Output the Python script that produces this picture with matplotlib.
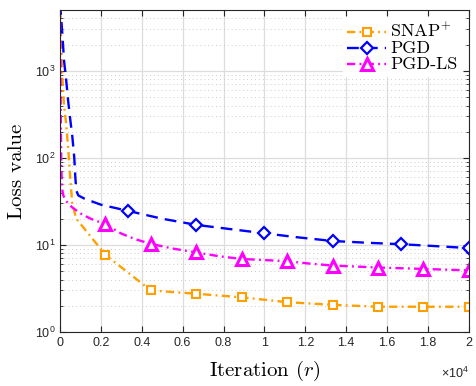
import numpy as np
import matplotlib
matplotlib.use("Agg")
import matplotlib.pyplot as plt
from matplotlib.ticker import FuncFormatter, LogLocator, NullFormatter

plt.rcParams['font.family'] = ['Liberation Sans', 'DejaVu Sans']
plt.rcParams['mathtext.fontset'] = 'custom'
plt.rcParams['mathtext.rm'] = 'Liberation Sans'
plt.rcParams['mathtext.it'] = 'Liberation Sans:italic'

# loss curves (iteration, loss)
snap_x = [0, 50, 100, 150, 200, 300, 400, 500, 600, 800, 2222, 4444, 6667,
          8889, 11111, 13333, 15556, 17778, 20000]
snap_y = [6000, 2500, 1000, 600, 400, 250, 130, 60, 30, 20, 7.7, 3.0, 2.75,
          2.5, 2.2, 2.05, 1.95, 1.95, 1.95]

pgd_x = [0, 100, 200, 300, 400, 500, 600, 700, 750, 800, 900, 1200, 2000,
         3333, 5000, 6667, 8333, 10000, 11667, 13333, 15000, 16667, 18333, 20000]
pgd_y = [6000, 3000, 1300, 800, 450, 280, 180, 100, 60, 42, 37, 34, 29,
         24.6, 20, 17, 15.2, 13.6, 12.2, 11.1, 10.6, 10.2, 9.7, 9.2]

ls_x = [0, 10, 20, 30, 40, 50, 60, 80, 100, 150, 250, 400, 600, 1000, 1500,
        2222, 3000, 3700, 4444, 5500, 6667, 7800, 8889, 10000, 11111, 12222,
        13333, 15556, 17778, 20000]
ls_y = [6000, 2500, 1200, 600, 300, 160, 100, 60, 45, 38, 33, 30, 27, 23, 20,
        17.3, 13.5, 11.6, 10.3, 9.1, 8.2, 7.4, 6.9, 6.7, 6.5, 6.1,
        5.8, 5.5, 5.3, 5.1]

snap_marks = [2222, 4444, 6667, 8889, 11111, 13333, 15556, 17778, 20000]
pgd_marks = [3333, 6667, 10000, 13333, 16667, 20000]
ls_marks = [2222, 4444, 6667, 8889, 11111, 13333, 15556, 17778, 20000]


def mark_idx(xs, marks):
    return [xs.index(m) for m in marks]


dashdot = (0, (3.5, 1.8, 0.8, 1.8))

fig = plt.figure(figsize=(4.76, 3.86), dpi=100)
ax = fig.add_axes([0.126, 0.140, 0.859, 0.834])

ax.plot(snap_x, snap_y, color='#FFA000', lw=1.7, ls=dashdot, marker='s', ms=6,
        mfc='white', mec='#FFA000', mew=1.5, markevery=mark_idx(snap_x, snap_marks),
        label='SNAP$^{+}$')
ax.plot(pgd_x, pgd_y, color='#0000FF', lw=1.7, ls=(0, (5, 3)), marker='D', ms=6,
        mfc='white', mec='#0000FF', mew=1.6, markevery=mark_idx(pgd_x, pgd_marks),
        label='PGD')
ax.plot(ls_x, ls_y, color='#FF00FF', lw=1.7, ls=dashdot, marker='^', ms=8,
        mfc='white', mec='#FF00FF', mew=2.2, markevery=mark_idx(ls_x, ls_marks),
        label='PGD-LS')

ax.set_yscale('log')
ax.set_xlim(0, 20000)
ax.set_ylim(1, 5000)
ax.set_xticks(np.arange(0, 20001, 2000))
ax.xaxis.set_major_formatter(FuncFormatter(lambda v, p: f'{v / 1e4:g}'))
ax.yaxis.set_major_locator(LogLocator(base=10, numticks=10))
ax.yaxis.set_minor_locator(LogLocator(base=10, subs=np.arange(2, 10), numticks=20))
ax.yaxis.set_minor_formatter(NullFormatter())
ax.yaxis.set_major_formatter(FuncFormatter(lambda v, p: r'$10^{%d}$' % round(np.log10(v))))

ax.grid(True, which='major', color='#dddddd', lw=0.9)
ax.grid(True, which='minor', axis='y', color='#cccccc', lw=0.7, ls=(0, (1, 3)))
ax.set_axisbelow(True)

ax.tick_params(which='both', direction='in', top=True, right=True,
               labelsize=9, colors='#262626', length=4)
ax.tick_params(which='minor', length=2)
for s in ax.spines.values():
    s.set_color('#262626')
    s.set_linewidth(0.8)

ax.text(1.0, -0.105, r'$\times10^{4}$', transform=ax.transAxes, ha='right',
        va='top', fontsize=9, color='#262626')

ax.set_xlabel(r'Iteration $(r)$', family='cmr10', math_fontfamily='cm',
              fontsize=15, labelpad=7)
ax.set_ylabel('Loss value', family='cmr10', fontsize=15, labelpad=6)

leg = ax.legend(loc='upper right', frameon=True, fancybox=False, edgecolor='white',
                framealpha=1, handlelength=2.8, borderpad=0.3, labelspacing=0.05,
                handletextpad=0.3, borderaxespad=0.5)
for t in leg.get_texts():
    t.set_family('cmr10')
    t.set_math_fontfamily('cm')
    t.set_fontsize(13)

fig.savefig('out.png', dpi=100)
